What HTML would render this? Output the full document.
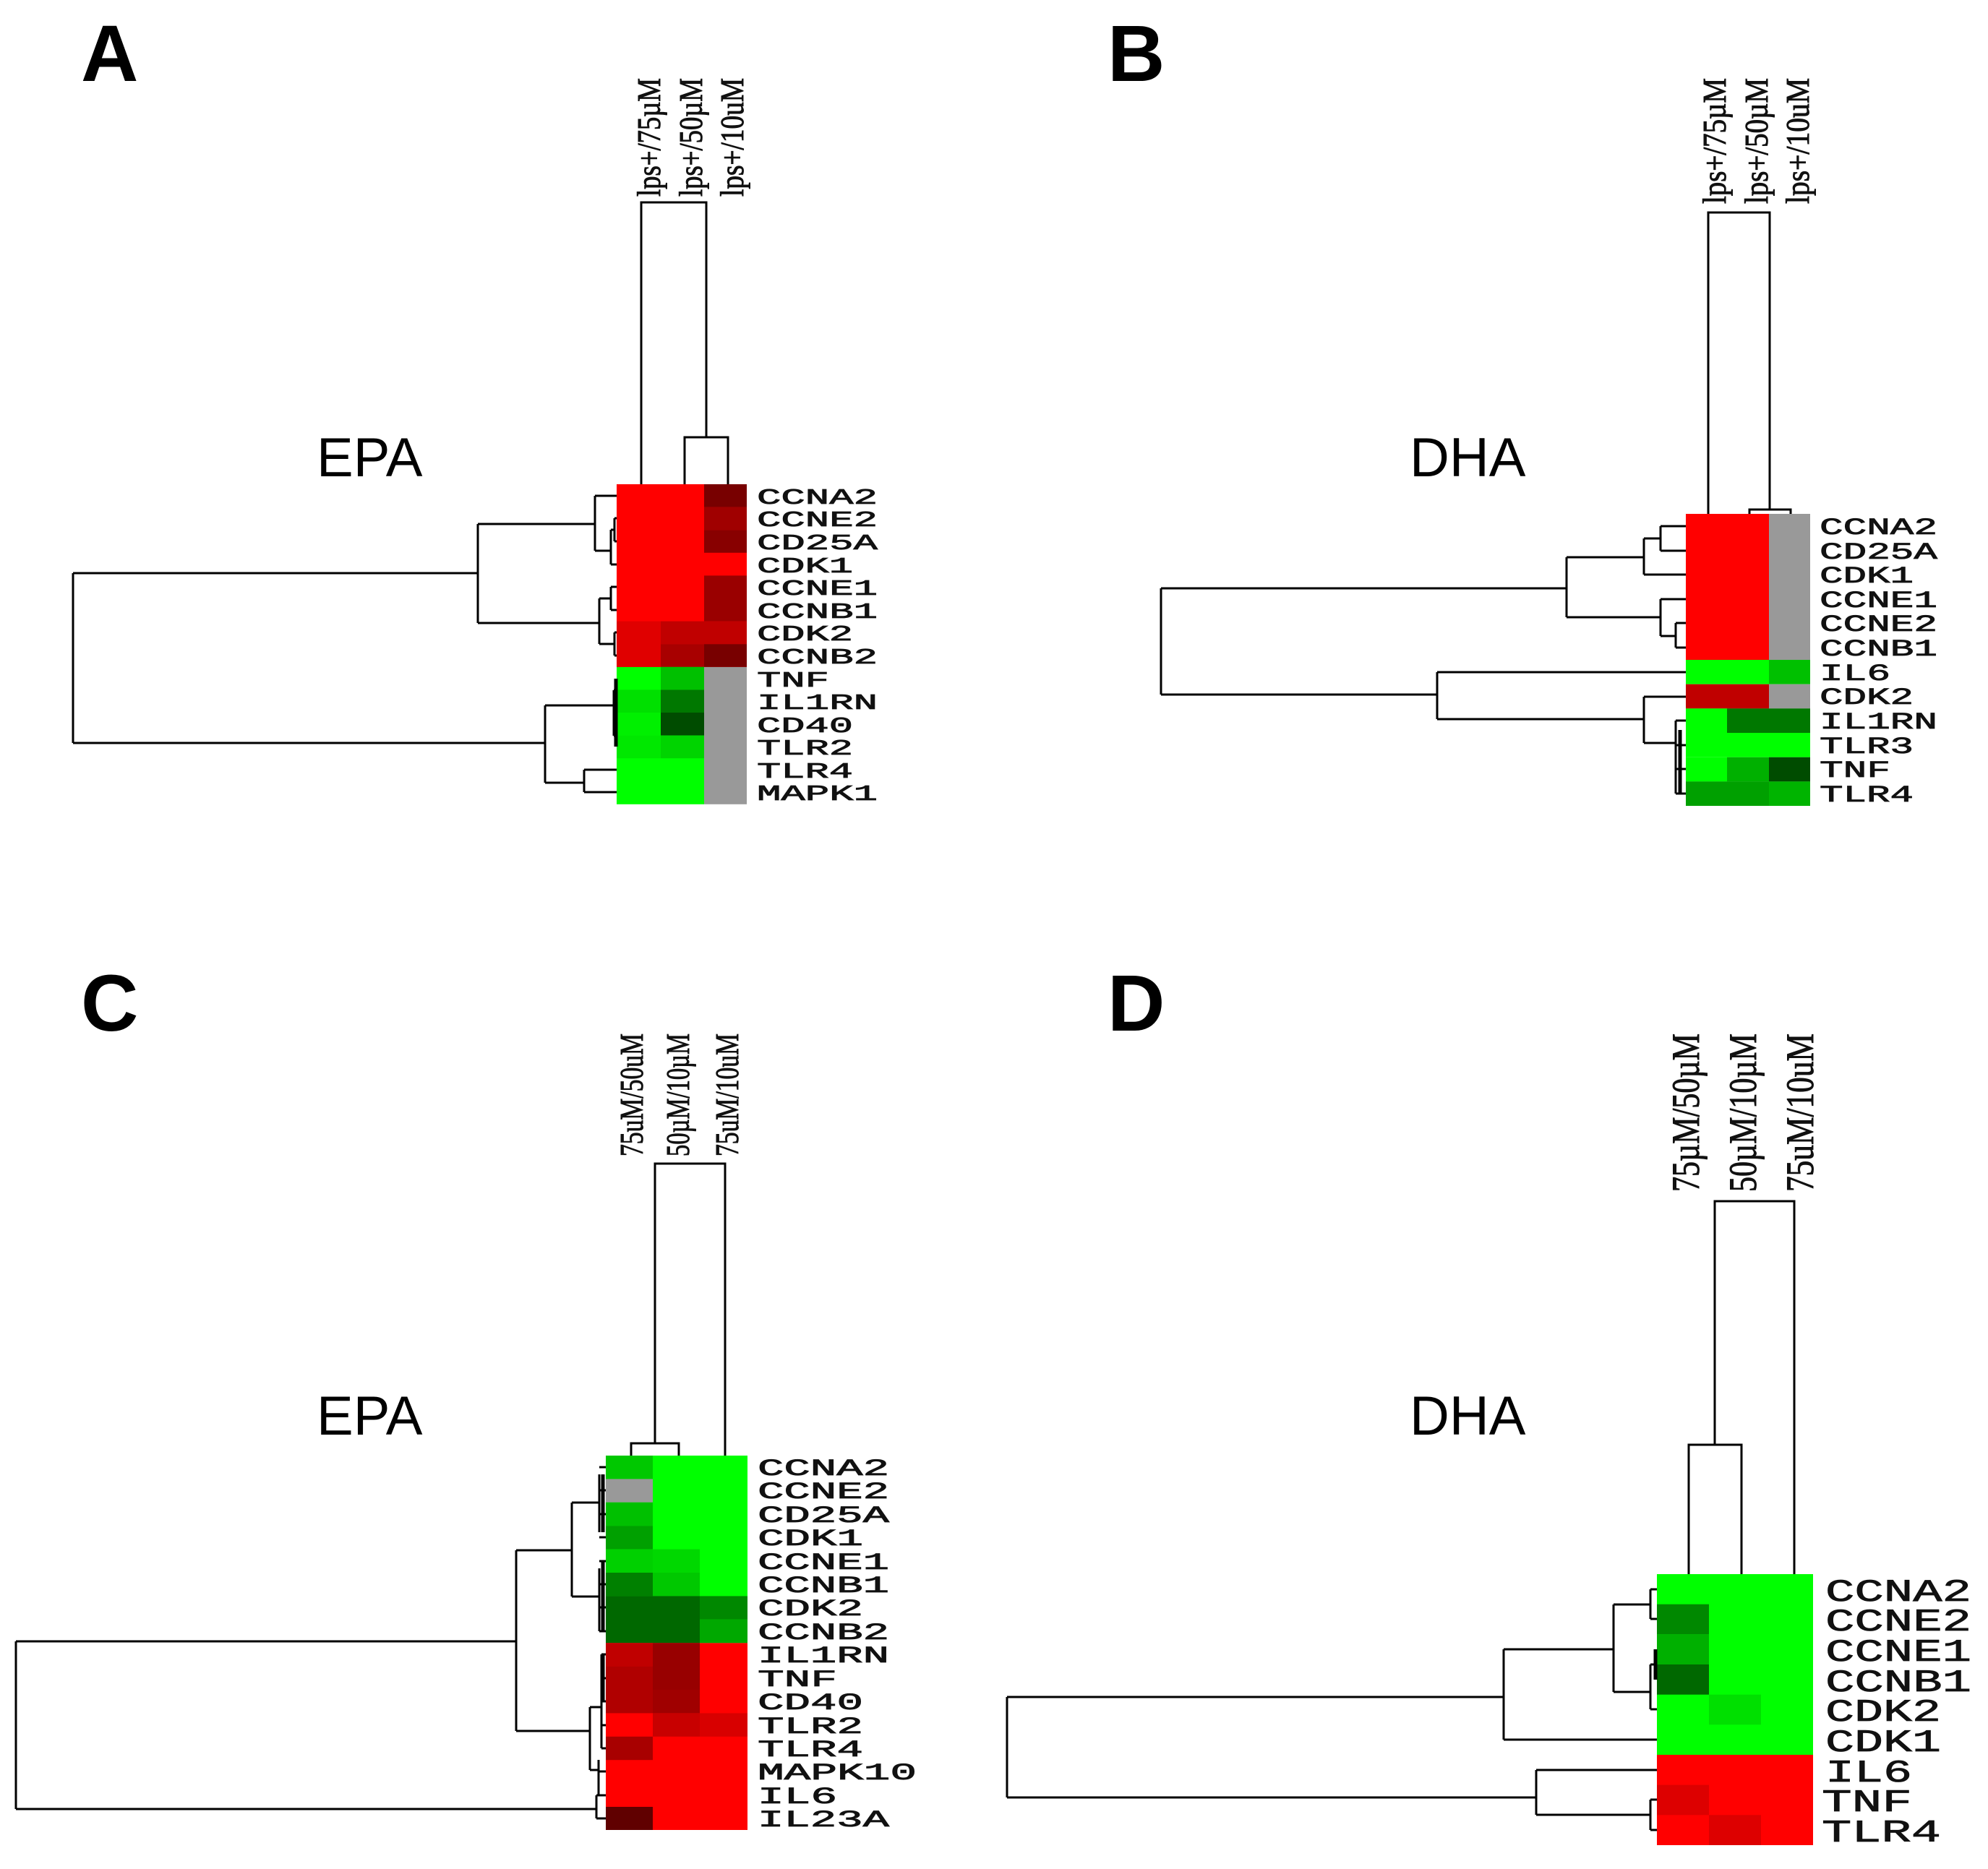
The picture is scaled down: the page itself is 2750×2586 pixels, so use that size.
<!DOCTYPE html>
<html><head><meta charset="utf-8"><style>html,body{margin:0;padding:0;background:#fff}svg{display:block}</style></head>
<body>
<svg width="2750" height="2586" viewBox="0 0 2750 2586" xmlns="http://www.w3.org/2000/svg">
<rect width="2750" height="2586" fill="#fff"/>
<g font-family="Liberation Sans, sans-serif" font-weight="bold" font-size="110" fill="#000">
<text x="112" y="112">A</text><text x="1532" y="112">B</text>
<text x="112" y="1426">C</text><text x="1532" y="1426">D</text>
</g>
<g font-family="Liberation Sans, sans-serif" font-size="76" fill="#000">
<text x="438" y="659">EPA</text><text x="1950" y="659">DHA</text>
<text x="438" y="1985">EPA</text><text x="1950" y="1985">DHA</text>
</g>

<g>
<rect x="853" y="670" width="180" height="253" fill="#ff0000"/>
<rect x="853" y="922.8" width="121" height="190" fill="#00ff00"/>
<rect x="974" y="922.8" width="59" height="190" fill="#999"/>
<rect x="974" y="670" width="59" height="31.6" fill="#780000"/>
<rect x="974" y="701.6" width="59" height="31.6" fill="#a00000"/>
<rect x="974" y="733.2" width="59" height="31.6" fill="#880000"/>
<rect x="974" y="796.4" width="59" height="63.2" fill="#9a0000"/>
<rect x="853" y="859.6" width="61" height="63.2" fill="#e00000"/>
<rect x="914" y="859.6" width="119" height="31.6" fill="#c00000"/>
<rect x="914" y="891.2" width="60" height="31.6" fill="#a80000"/>
<rect x="974" y="891.2" width="59" height="31.6" fill="#780000"/>
<rect x="914" y="922.8" width="60" height="31.6" fill="#00c000"/>
<rect x="853" y="954.4" width="61" height="31.6" fill="#00e000"/>
<rect x="914" y="954.4" width="60" height="31.6" fill="#007800"/>
<rect x="853" y="986" width="61" height="31.6" fill="#00f000"/>
<rect x="914" y="986" width="60" height="31.6" fill="#004c00"/>
<rect x="853" y="1017.6" width="61" height="31.6" fill="#00e800"/>
<rect x="914" y="1017.6" width="60" height="31.6" fill="#00d400"/>
</g>
<g>
<rect x="2332" y="711" width="115" height="202" fill="#ff0000"/>
<rect x="2447" y="711" width="57" height="202" fill="#999"/>
<rect x="2332" y="913" width="115" height="33.7" fill="#00ff00"/>
<rect x="2447" y="913" width="57" height="33.7" fill="#00c000"/>
<rect x="2332" y="946.7" width="115" height="33.7" fill="#c00000"/>
<rect x="2447" y="946.7" width="57" height="33.7" fill="#999"/>
<rect x="2332" y="980.3" width="57" height="33.7" fill="#00ff00"/>
<rect x="2389" y="980.3" width="115" height="33.7" fill="#007800"/>
<rect x="2332" y="1014" width="172" height="33.7" fill="#00ff00"/>
<rect x="2332" y="1047.7" width="57" height="33.7" fill="#00ff00"/>
<rect x="2389" y="1047.7" width="58" height="33.7" fill="#00b000"/>
<rect x="2447" y="1047.7" width="57" height="33.7" fill="#004c00"/>
<rect x="2332" y="1081.3" width="115" height="33.7" fill="#00a000"/>
<rect x="2447" y="1081.3" width="57" height="33.7" fill="#00b400"/>
</g>
<g>
<rect x="838" y="2014" width="196" height="259.2" fill="#00ff00"/>
<rect x="838" y="2273.2" width="196" height="258.8" fill="#ff0000"/>
<rect x="838" y="2014" width="65" height="32.4" fill="#00c800"/>
<rect x="838" y="2046.4" width="65" height="32.4" fill="#999"/>
<rect x="838" y="2078.8" width="65" height="32.4" fill="#00c000"/>
<rect x="838" y="2111.2" width="65" height="32.4" fill="#00a000"/>
<rect x="838" y="2143.6" width="65" height="32.4" fill="#00d000"/>
<rect x="903" y="2143.6" width="65" height="32.4" fill="#00d800"/>
<rect x="838" y="2176" width="65" height="32.4" fill="#008000"/>
<rect x="903" y="2176" width="65" height="32.4" fill="#00c800"/>
<rect x="838" y="2208.4" width="130" height="64.8" fill="#006800"/>
<rect x="968" y="2208.4" width="66" height="32.4" fill="#008800"/>
<rect x="968" y="2240.8" width="66" height="32.4" fill="#00a800"/>
<rect x="838" y="2273.2" width="65" height="32.4" fill="#c00000"/>
<rect x="903" y="2273.2" width="65" height="64.8" fill="#980000"/>
<rect x="838" y="2305.6" width="65" height="64.8" fill="#b00000"/>
<rect x="903" y="2338" width="65" height="32.4" fill="#a00000"/>
<rect x="903" y="2370.4" width="65" height="32.4" fill="#c80000"/>
<rect x="968" y="2370.4" width="66" height="32.4" fill="#d80000"/>
<rect x="838" y="2402.8" width="65" height="32.4" fill="#a80000"/>
<rect x="838" y="2500" width="65" height="32" fill="#600000"/>
</g>
<g>
<rect x="2292" y="2178" width="216" height="250" fill="#00ff00"/>
<rect x="2292" y="2428" width="216" height="125" fill="#ff0000"/>
<rect x="2292" y="2219.7" width="72" height="41.6" fill="#008800"/>
<rect x="2292" y="2261.3" width="72" height="41.7" fill="#00b000"/>
<rect x="2292" y="2303" width="72" height="41.7" fill="#006800"/>
<rect x="2364" y="2344.7" width="72" height="41.6" fill="#00e000"/>
<rect x="2292" y="2469.7" width="72" height="41.6" fill="#dd0000"/>
<rect x="2364" y="2511.3" width="72" height="41.7" fill="#dd0000"/>
</g>

<g fill="none" stroke="#000" stroke-width="3">
<path d="M887 670V280H977V605M947 670V605H1007V670"/>
<path d="M101 793V1028M101 793H661M101 1028H754M661 725V862M661 725H823M823 686V762M823 686H853M823 762H845M845 733V781M845 733H850M850 717V749M850 717H853M850 749H853M845 781H853M661 862H829M829 828V891M829 828H845M845 812V844M845 812H853M845 844H853M829 891H850M850 875V907M850 875H853M850 907H853"/>
<path d="M754 976V1083M754 976H849M849 955V1018M849 955H853M849 1018H853M808 1065V1096M754 1083H808M808 1065H853M808 1096H853"/>
<path d="M852 939V1033" stroke-width="5"/>
<path d="M2363 711V294H2448V705M2420 711V705H2477V711"/>
<path d="M1606 814V961M1606 814H2167M2167 771V854M2167 771H2274M2274 745V795M2274 795H2332M2274 745H2297M2297 728V762M2297 728H2332M2297 762H2332M2167 854H2297M2297 829V880M2297 829H2332M2297 880H2318M2318 862V896M2318 862H2332M2318 896H2332"/>
<path d="M1606 961H1988M1988 930V995M1988 930H2332M1988 995H2274M2274 964V1028M2274 964H2332M2274 1028H2318M2318 997V1098M2318 997H2332M2318 1031H2332M2318 1064H2332M2318 1098H2332"/>
<path d="M2324 1010V1098" stroke-width="5"/>
<path d="M906 1997V1610H1003V2014M873 2014V1997H939V2014"/>
<path d="M22 2271V2503M22 2271H714M714 2145V2395M714 2145H791M791 2079V2209M791 2079H829M829 2040V2120M829 2030H838M829 2062H838M829 2095H838M829 2127H838M791 2209H829M829 2170V2257M829 2160H838M829 2192H838M829 2224H838M829 2257H838"/>
<path d="M714 2395H816M816 2362V2449M816 2362H832M832 2289V2419M832 2289H838M832 2322H838M832 2354H838M832 2387H838M832 2419H838M816 2449H828M828 2435V2484M828 2451H838M828 2484H838M22 2503H825M825 2484V2516M825 2484H838M825 2516H838"/>
<path d="M834 2040V2120M834 2160V2257M834 2289V2354" stroke-width="5"/>
<path d="M2482 2178V1662H2372V1999M2336 2178V1999H2409V2178"/>
<path d="M1393 2348V2487M1393 2348H2080M2080 2282V2407M2080 2407H2292M2080 2282H2232M2232 2220V2341M2232 2220H2283M2283 2199V2240M2283 2199H2292M2283 2240H2292M2232 2341H2283M2283 2303V2365M2283 2303H2290M2290 2282V2324M2283 2365H2292"/>
<path d="M1393 2487H2125M2125 2449V2511M2125 2449H2292M2125 2511H2283M2283 2490V2532M2283 2490H2292M2283 2532H2292"/>
<path d="M2290 2282V2324" stroke-width="5"/>
</g>

<g font-family="Liberation Mono, monospace" fill="#111" stroke="#111" stroke-width="0.8">
<g font-size="31">
<text x="1047" y="697" textLength="167" lengthAdjust="spacingAndGlyphs">CCNA2</text>
<text x="1047" y="728" textLength="167" lengthAdjust="spacingAndGlyphs">CCNE2</text>
<text x="1047" y="760" textLength="167" lengthAdjust="spacingAndGlyphs">CD25A</text>
<text x="1047" y="792" textLength="133" lengthAdjust="spacingAndGlyphs">CDK1</text>
<text x="1047" y="823" textLength="167" lengthAdjust="spacingAndGlyphs">CCNE1</text>
<text x="1047" y="855" textLength="167" lengthAdjust="spacingAndGlyphs">CCNB1</text>
<text x="1047" y="886" textLength="133" lengthAdjust="spacingAndGlyphs">CDK2</text>
<text x="1047" y="918" textLength="167" lengthAdjust="spacingAndGlyphs">CCNB2</text>
<text x="1047" y="950" textLength="100" lengthAdjust="spacingAndGlyphs">TNF</text>
<text x="1047" y="981" textLength="167" lengthAdjust="spacingAndGlyphs">IL1RN</text>
<text x="1047" y="1013" textLength="133" lengthAdjust="spacingAndGlyphs">CD40</text>
<text x="1047" y="1044" textLength="133" lengthAdjust="spacingAndGlyphs">TLR2</text>
<text x="1047" y="1076" textLength="133" lengthAdjust="spacingAndGlyphs">TLR4</text>
<text x="1047" y="1107" textLength="167" lengthAdjust="spacingAndGlyphs">MAPK1</text>
</g>
<g font-size="32">
<text x="2517" y="739" textLength="163" lengthAdjust="spacingAndGlyphs">CCNA2</text>
<text x="2517" y="773" textLength="163" lengthAdjust="spacingAndGlyphs">CD25A</text>
<text x="2517" y="806" textLength="130" lengthAdjust="spacingAndGlyphs">CDK1</text>
<text x="2517" y="840" textLength="163" lengthAdjust="spacingAndGlyphs">CCNE1</text>
<text x="2517" y="873" textLength="163" lengthAdjust="spacingAndGlyphs">CCNE2</text>
<text x="2517" y="907" textLength="163" lengthAdjust="spacingAndGlyphs">CCNB1</text>
<text x="2517" y="941" textLength="98" lengthAdjust="spacingAndGlyphs">IL6</text>
<text x="2517" y="974" textLength="130" lengthAdjust="spacingAndGlyphs">CDK2</text>
<text x="2517" y="1008" textLength="163" lengthAdjust="spacingAndGlyphs">IL1RN</text>
<text x="2517" y="1042" textLength="130" lengthAdjust="spacingAndGlyphs">TLR3</text>
<text x="2517" y="1075" textLength="98" lengthAdjust="spacingAndGlyphs">TNF</text>
<text x="2517" y="1109" textLength="130" lengthAdjust="spacingAndGlyphs">TLR4</text>
</g>
<g font-size="32">
<text x="1048" y="2041" textLength="182" lengthAdjust="spacingAndGlyphs">CCNA2</text>
<text x="1048" y="2073" textLength="182" lengthAdjust="spacingAndGlyphs">CCNE2</text>
<text x="1048" y="2106" textLength="182" lengthAdjust="spacingAndGlyphs">CD25A</text>
<text x="1048" y="2138" textLength="146" lengthAdjust="spacingAndGlyphs">CDK1</text>
<text x="1048" y="2171" textLength="182" lengthAdjust="spacingAndGlyphs">CCNE1</text>
<text x="1048" y="2203" textLength="182" lengthAdjust="spacingAndGlyphs">CCNB1</text>
<text x="1048" y="2235" textLength="146" lengthAdjust="spacingAndGlyphs">CDK2</text>
<text x="1048" y="2268" textLength="182" lengthAdjust="spacingAndGlyphs">CCNB2</text>
<text x="1048" y="2300" textLength="182" lengthAdjust="spacingAndGlyphs">IL1RN</text>
<text x="1048" y="2333" textLength="110" lengthAdjust="spacingAndGlyphs">TNF</text>
<text x="1048" y="2365" textLength="146" lengthAdjust="spacingAndGlyphs">CD40</text>
<text x="1048" y="2398" textLength="146" lengthAdjust="spacingAndGlyphs">TLR2</text>
<text x="1048" y="2430" textLength="146" lengthAdjust="spacingAndGlyphs">TLR4</text>
<text x="1048" y="2462" textLength="220" lengthAdjust="spacingAndGlyphs">MAPK10</text>
<text x="1048" y="2495" textLength="110" lengthAdjust="spacingAndGlyphs">IL6</text>
<text x="1048" y="2527" textLength="182" lengthAdjust="spacingAndGlyphs">IL23A</text>
</g>
<g font-size="44">
<text x="2525" y="2215" textLength="202" lengthAdjust="spacingAndGlyphs">CCNA2</text>
<text x="2525" y="2256" textLength="202" lengthAdjust="spacingAndGlyphs">CCNE2</text>
<text x="2525" y="2298" textLength="202" lengthAdjust="spacingAndGlyphs">CCNE1</text>
<text x="2525" y="2340" textLength="202" lengthAdjust="spacingAndGlyphs">CCNB1</text>
<text x="2525" y="2381" textLength="160" lengthAdjust="spacingAndGlyphs">CDK2</text>
<text x="2525" y="2423" textLength="160" lengthAdjust="spacingAndGlyphs">CDK1</text>
<text x="2525" y="2465" textLength="120" lengthAdjust="spacingAndGlyphs">IL6</text>
<text x="2520" y="2506" textLength="125" lengthAdjust="spacingAndGlyphs">TNF</text>
<text x="2520" y="2548" textLength="165" lengthAdjust="spacingAndGlyphs">TLR4</text>
</g>
</g>

<g font-family="Liberation Serif, serif" font-size="46" fill="#111" stroke="#111" stroke-width="1">
<text transform="translate(913,272) rotate(-90)" textLength="164" lengthAdjust="spacingAndGlyphs">lps+/75µM</text>
<text transform="translate(971,272) rotate(-90)" textLength="164" lengthAdjust="spacingAndGlyphs">lps+/50µM</text>
<text transform="translate(1028,272) rotate(-90)" textLength="164" lengthAdjust="spacingAndGlyphs">lps+/10uM</text>
<text transform="translate(2387,282) rotate(-90)" textLength="174" lengthAdjust="spacingAndGlyphs">lps+/75µM</text>
<text transform="translate(2445,282) rotate(-90)" textLength="174" lengthAdjust="spacingAndGlyphs">lps+/50µM</text>
<text transform="translate(2502,282) rotate(-90)" textLength="174" lengthAdjust="spacingAndGlyphs">lps+/10uM</text>
<text transform="translate(889,1600) rotate(-90)" textLength="170" lengthAdjust="spacingAndGlyphs">75uM/50uM</text>
<text transform="translate(953,1600) rotate(-90)" textLength="170" lengthAdjust="spacingAndGlyphs">50µM/10µM</text>
<text transform="translate(1021,1600) rotate(-90)" textLength="170" lengthAdjust="spacingAndGlyphs">75uM/10uM</text>
</g>
<g font-family="Liberation Serif, serif" font-size="54" fill="#111" stroke="#111" stroke-width="1">
<text transform="translate(2350,1649) rotate(-90)" textLength="219" lengthAdjust="spacingAndGlyphs">75µM/50µM</text>
<text transform="translate(2429,1649) rotate(-90)" textLength="219" lengthAdjust="spacingAndGlyphs">50µM/10µM</text>
<text transform="translate(2508,1649) rotate(-90)" textLength="219" lengthAdjust="spacingAndGlyphs">75uM/10uM</text>
</g>
</svg>
</body></html>
